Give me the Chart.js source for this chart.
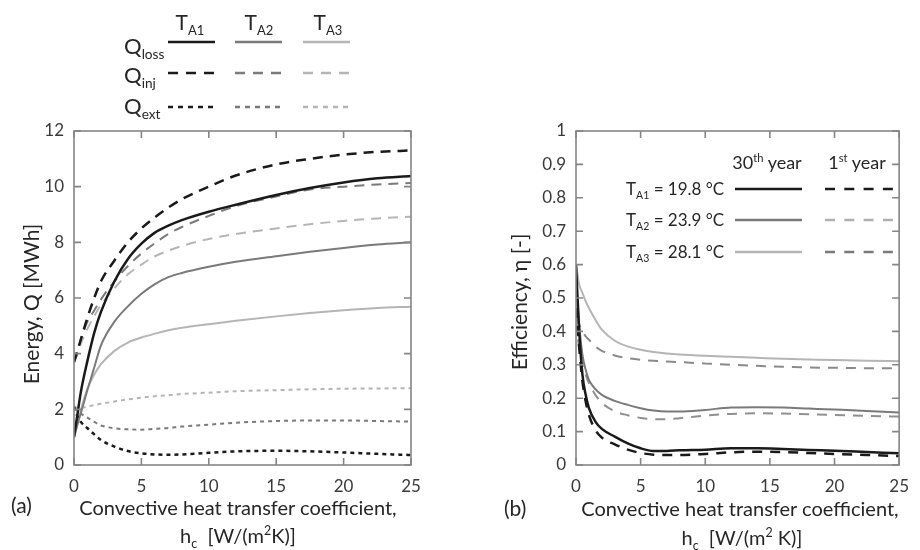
<!DOCTYPE html>
<html>
<head>
<meta charset="utf-8">
<script src="https://cdn.jsdelivr.net/npm/chart.js@4.4.1/dist/chart.umd.min.js"></script>
<style>
html, body { margin: 0; padding: 0; background: #fff; overflow: hidden; }
#wrap { position: relative; width: 920px; height: 550px; font-family: Lato, sans-serif; color: #262626; }
.box { position: absolute; top: 0; }
.t { position: absolute; white-space: nowrap; line-height: 1; }
.cc { transform: translate(-50%, -50%); }
.lc { transform: translateY(-50%); }
.rot { transform: translate(-50%, -50%) rotate(-90deg); }
sub, sup { font-size: 62%; line-height: 0; }
</style>
</head>
<body>
<div id="wrap">
  <div class="box" style="left:0"><canvas id="ca" width="460" height="550"></canvas></div>
  <div class="box" style="left:460px"><canvas id="cb" width="460" height="550"></canvas></div>

  <svg width="920" height="550" style="position:absolute;left:0;top:0">
    <g stroke-width="2.5" fill="none">
      <line x1="168" y1="42" x2="215" y2="42" stroke="#1a1a1a"/>
      <line x1="235" y1="42" x2="282" y2="42" stroke="#7a7a7a"/>
      <line x1="303" y1="42" x2="350" y2="42" stroke="#b5b5b5"/>
      <line x1="168" y1="73" x2="215" y2="73" stroke="#1a1a1a" stroke-dasharray="10 8"/>
      <line x1="235" y1="73" x2="282" y2="73" stroke="#7a7a7a" stroke-dasharray="10 8"/>
      <line x1="303" y1="73" x2="350" y2="73" stroke="#b5b5b5" stroke-dasharray="10 8"/>
      <line x1="168" y1="107" x2="215" y2="107" stroke="#1a1a1a" stroke-dasharray="5 5"/>
      <line x1="235" y1="107" x2="282" y2="107" stroke="#7a7a7a" stroke-dasharray="5 5"/>
      <line x1="303" y1="107" x2="350" y2="107" stroke="#b5b5b5" stroke-dasharray="5 5"/>

      <line x1="735" y1="189" x2="802" y2="189" stroke="#1a1a1a"/>
      <line x1="735" y1="220" x2="802" y2="220" stroke="#7a7a7a"/>
      <line x1="735" y1="252" x2="802" y2="252" stroke="#b5b5b5"/>
      <line x1="825" y1="189" x2="893" y2="189" stroke="#1a1a1a" stroke-dasharray="10 9.3"/>
      <line x1="825" y1="220" x2="893" y2="220" stroke="#b0b0b0" stroke-dasharray="10 9.3"/>
      <line x1="825" y1="252" x2="893" y2="252" stroke="#7a7a7a" stroke-dasharray="10 9.3"/>
    </g>
  </svg>

  <!-- legend (a) -->
  <div class="t cc" style="left:190px;top:21px;font-size:21px">T<sub>A1</sub></div>
  <div class="t cc" style="left:259px;top:21px;font-size:21px">T<sub>A2</sub></div>
  <div class="t cc" style="left:328px;top:21px;font-size:21px">T<sub>A3</sub></div>
  <div class="t lc" style="left:124px;top:46px;font-size:22px">Q<sub>loss</sub></div>
  <div class="t lc" style="left:124px;top:75px;font-size:22px">Q<sub>inj</sub></div>
  <div class="t lc" style="left:124px;top:106px;font-size:22px">Q<sub>ext</sub></div>

  <!-- legend (b) -->
  <div class="t cc" style="left:767px;top:162px;font-size:18px">30<sup>th</sup> year</div>
  <div class="t cc" style="left:857px;top:162px;font-size:18px">1<sup>st</sup> year</div>
  <div class="t lc" style="left:626px;top:188px;font-size:17px">T<sub>A1</sub> = 19.8 °C</div>
  <div class="t lc" style="left:626px;top:219px;font-size:17px">T<sub>A2</sub> = 23.9 °C</div>
  <div class="t lc" style="left:626px;top:251px;font-size:17px">T<sub>A3</sub> = 28.1 °C</div>

  <!-- axis titles -->
  <div class="t rot" style="left:30px;top:304px;font-size:21px">Energy, Q [MWh]</div>
  <div class="t rot" style="left:518px;top:302px;font-size:21px">Efficiency, η [-]</div>
  <div class="t cc" style="left:238px;top:507px;font-size:20px">Convective heat transfer coefficient,</div>
  <div class="t cc" style="left:238px;top:535px;font-size:20px">h<sub>c</sub>&nbsp; [W/(m<sup>2</sup>K)]</div>
  <div class="t cc" style="left:740px;top:508px;font-size:20px">Convective heat transfer coefficient,</div>
  <div class="t cc" style="left:742px;top:537px;font-size:20px">h<sub>c</sub>&nbsp; [W/(m<sup>2</sup> K)]</div>
  <div class="t lc" style="left:11px;top:504px;font-size:21px">(a)</div>
  <div class="t lc" style="left:504px;top:507px;font-size:21px">(b)</div>
</div>

<script>
// panel (a): energy vs convective heat transfer coefficient
const hA = [0, 0.25, 0.5, 1, 1.5, 2, 3, 4, 5, 6, 7, 8, 10, 12, 15, 17.5, 20, 22.5, 25];
const lossA1 = [1.0, 1.8, 2.6, 3.75, 4.75, 5.5, 6.6, 7.4, 7.95, 8.35, 8.6, 8.8, 9.1, 9.35, 9.7, 9.95, 10.15, 10.3, 10.38];
const lossA2 = [1.0, 1.45, 1.85, 2.7, 3.5, 4.3, 5.15, 5.7, 6.15, 6.5, 6.75, 6.9, 7.12, 7.3, 7.5, 7.66, 7.8, 7.92, 8.0];
const lossA3 = [1.0, 1.45, 1.95, 2.75, 3.25, 3.62, 4.1, 4.4, 4.58, 4.72, 4.84, 4.93, 5.06, 5.18, 5.34, 5.46, 5.56, 5.64, 5.69];
const injA1 = [3.7, 4.1, 4.5, 5.3, 6.0, 6.6, 7.35, 8.0, 8.5, 8.9, 9.25, 9.55, 10.0, 10.4, 10.8, 11.0, 11.15, 11.25, 11.3];
const injA2 = [3.7, 4.0, 4.5, 5.15, 5.55, 5.95, 6.6, 7.15, 7.6, 7.97, 8.3, 8.55, 8.95, 9.3, 9.65, 9.9, 10.0, 10.08, 10.13];
const injA3 = [3.7, 4.0, 4.35, 4.9, 5.35, 5.75, 6.35, 6.85, 7.2, 7.5, 7.7, 7.87, 8.12, 8.3, 8.5, 8.65, 8.77, 8.86, 8.92];
const extA1 = [2.1, 1.75, 1.55, 1.32, 1.1, 0.9, 0.66, 0.5, 0.42, 0.38, 0.37, 0.38, 0.44, 0.49, 0.51, 0.49, 0.45, 0.4, 0.36];
const extA2 = [2.05, 1.95, 1.85, 1.7, 1.55, 1.42, 1.32, 1.28, 1.27, 1.3, 1.33, 1.38, 1.45, 1.52, 1.58, 1.6, 1.6, 1.58, 1.56];
const extA3 = [2.1, 2.05, 2.05, 2.1, 2.15, 2.2, 2.28, 2.36, 2.42, 2.47, 2.51, 2.55, 2.6, 2.65, 2.69, 2.72, 2.74, 2.75, 2.76];

// panel (b): efficiency, 30th year (solid) and 1st year (dashed)
const hB = [0, 0.25, 0.5, 0.75, 1, 1.5, 2, 3, 4, 5, 6, 7, 8, 10, 12, 14, 16, 18, 20, 22.5, 25];
const eff30A1 = [0.6, 0.4, 0.27, 0.21, 0.17, 0.13, 0.108, 0.085, 0.065, 0.05, 0.042, 0.042, 0.044, 0.046, 0.05, 0.05, 0.048, 0.045, 0.043, 0.039, 0.035];
const eff30A2 = [0.55, 0.42, 0.33, 0.285, 0.255, 0.227, 0.21, 0.192, 0.18, 0.17, 0.163, 0.16, 0.16, 0.165, 0.172, 0.173, 0.172, 0.169, 0.166, 0.162, 0.157];
const eff30A3 = [0.6, 0.54, 0.515, 0.49, 0.47, 0.435, 0.405, 0.372, 0.355, 0.345, 0.338, 0.334, 0.331, 0.327, 0.324, 0.321, 0.318, 0.316, 0.314, 0.312, 0.311];
const eff1A1 = [0.47, 0.35, 0.25, 0.19, 0.15, 0.105, 0.082, 0.062, 0.046, 0.036, 0.031, 0.03, 0.03, 0.033, 0.038, 0.04, 0.039, 0.036, 0.033, 0.03, 0.027];
const eff1A2 = [0.43, 0.35, 0.3, 0.27, 0.245, 0.21, 0.186, 0.161, 0.149, 0.141, 0.137, 0.137, 0.14, 0.148, 0.153, 0.155, 0.154, 0.152, 0.15, 0.147, 0.145];
const eff1A3 = [0.44, 0.42, 0.4, 0.385, 0.375, 0.355, 0.342, 0.328, 0.32, 0.315, 0.312, 0.31, 0.308, 0.304, 0.3, 0.297, 0.294, 0.292, 0.291, 0.29, 0.29];

const xTicks = ['0', '5', '10', '15', '20', '25'];
const yTicksA = ['0', '2', '4', '6', '8', '10', '12'];
const yTicksB = ['0', '0.1', '0.2', '0.3', '0.4', '0.5', '0.6', '0.7', '0.8', '0.9', '1'];

const BLACK = '#1a1a1a', MID = '#7a7a7a', LIGHT = '#b5b5b5';
const DASH = [10, 7], DOT = [4, 4];

function pts(xs, ys) {
    return xs.map((x, i) => ({ x: x, y: ys[i] }));
}

function line(xs, ys, color, dash, width) {
    return {
        data: pts(xs, ys),
        borderColor: color,
        borderWidth: width || 2,
        borderDash: dash || [],
        pointRadius: 0,
        fill: false,
        tension: 0.4,
        cubicInterpolationMode: 'monotone',
    };
}

// box round the plot with inward ticks on all four sides
const frame = {
    id: 'frame',
    afterDatasetsDraw(chart) {
        const { ctx, chartArea: a, scales } = chart;
        ctx.save();
        ctx.strokeStyle = '#858585';
        ctx.lineWidth = 1.6;
        ctx.strokeRect(a.left, a.top, a.right - a.left, a.bottom - a.top);
        ctx.beginPath();
        scales.x.ticks.forEach(t => {
            const p = scales.x.getPixelForValue(t.value);
            ctx.moveTo(p, a.bottom); ctx.lineTo(p, a.bottom - 7);
            ctx.moveTo(p, a.top); ctx.lineTo(p, a.top + 7);
        });
        scales.y.ticks.forEach(t => {
            const p = scales.y.getPixelForValue(t.value);
            ctx.moveTo(a.left, p); ctx.lineTo(a.left + 7, p);
            ctx.moveTo(a.right, p); ctx.lineTo(a.right - 7, p);
        });
        ctx.stroke();
        ctx.restore();
    },
};

function makeOptions(ymax, ystep, yLabels, yWidth, padding) {
    const tickFont = { family: 'Lato', size: 17 };
    return {
        responsive: false,
        animation: false,
        layout: { padding: padding },
        plugins: { legend: { display: false }, tooltip: { enabled: false } },
        scales: {
            x: {
                type: 'linear', min: 0, max: 25,
                ticks: { stepSize: 5, padding: 11, color: '#3a3a3a', font: tickFont, callback: (v, i) => xTicks[i] },
                grid: { display: false, drawTicks: false },
                border: { display: false },
                afterFit(s) { s.height = 40; },
            },
            y: {
                type: 'linear', min: 0, max: ymax,
                ticks: { stepSize: ystep, padding: 10, color: '#3a3a3a', font: tickFont, callback: (v, i) => yLabels[i] },
                grid: { display: false, drawTicks: false },
                border: { display: false },
                afterFit(s) { s.width = yWidth; },
            },
        },
    };
}

new Chart(document.getElementById('ca').getContext('2d'), {
    type: 'line',
    data: {
        datasets: [
            line(hA, lossA1, BLACK, null, 2.5),
            line(hA, injA1, BLACK, DASH, 2.5),
            line(hA, extA1, BLACK, DOT, 2.5),
            line(hA, lossA2, MID),
            line(hA, injA2, MID, DASH),
            line(hA, extA2, MID, DOT),
            line(hA, lossA3, LIGHT),
            line(hA, injA3, LIGHT, DASH),
            line(hA, extA3, LIGHT, DOT),
        ],
    },
    options: makeOptions(12, 2, yTicksA, 74, { top: 131, right: 49, bottom: 45, left: 0 }),
    plugins: [frame],
});

new Chart(document.getElementById('cb').getContext('2d'), {
    type: 'line',
    data: {
        datasets: [
            line(hB, eff30A1, BLACK, null, 2.5),
            line(hB, eff1A1, BLACK, [10, 8], 2.5),
            line(hB, eff30A2, MID),
            line(hB, eff1A2, '#909090', [10, 8]),
            line(hB, eff30A3, LIGHT),
            line(hB, eff1A3, '#8a8a8a', [10, 8]),
        ],
    },
    options: makeOptions(1, 0.1, yTicksB, 116, { top: 131, right: 8, bottom: 45, left: 0 }),
    plugins: [frame],
});
</script>
</body>
</html>
